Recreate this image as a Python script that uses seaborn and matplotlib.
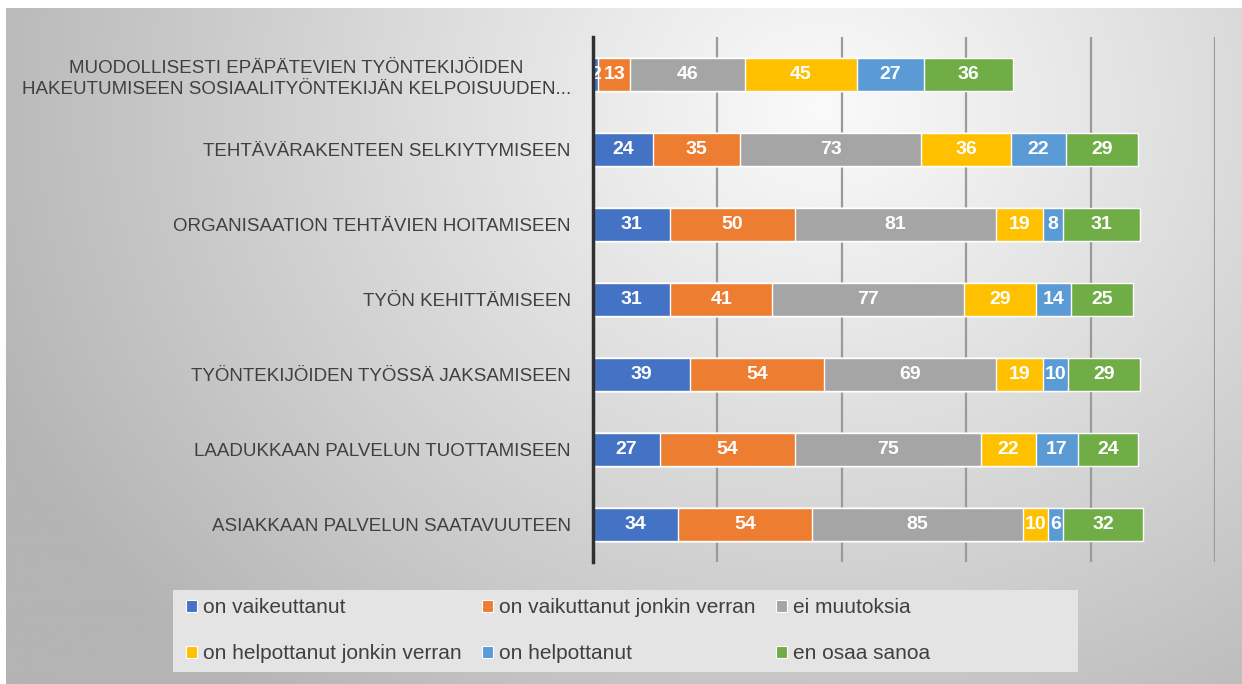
import numpy as np
import pandas as pd
import matplotlib
matplotlib.use("Agg")
import matplotlib.pyplot as plt
from matplotlib.patches import Rectangle, Patch
import seaborn as sns

categories = [
    "MUODOLLISESTI EPÄPÄTEVIEN TYÖNTEKIJÖIDEN\nHAKEUTUMISEEN SOSIAALITYÖNTEKIJÄN KELPOISUUDEN...",
    "TEHTÄVÄRAKENTEEN SELKIYTYMISEEN",
    "ORGANISAATION TEHTÄVIEN HOITAMISEEN",
    "TYÖN KEHITTÄMISEEN",
    "TYÖNTEKIJÖIDEN TYÖSSÄ JAKSAMISEEN",
    "LAADUKKAAN PALVELUN TUOTTAMISEEN",
    "ASIAKKAAN PALVELUN SAATAVUUTEEN",
]
series_names = ["on vaikeuttanut", "on vaikuttanut jonkin verran", "ei muutoksia",
                "on helpottanut jonkin verran", "on helpottanut", "en osaa sanoa"]
on_vaikeuttanut = [2, 24, 31, 31, 39, 27, 34]
on_vaikuttanut_jv = [13, 35, 50, 41, 54, 54, 54]
ei_muutoksia = [46, 73, 81, 77, 69, 75, 85]
on_helpottanut_jv = [45, 36, 19, 29, 19, 22, 10]
on_helpottanut = [27, 22, 8, 14, 10, 17, 6]
en_osaa_sanoa = [36, 29, 31, 25, 29, 24, 32]
colors = ["#4472C4", "#ED7D31", "#A5A5A5", "#FFC000", "#5B9BD5", "#70AD47"]

values = [on_vaikeuttanut, on_vaikuttanut_jv, ei_muutoksia,
          on_helpottanut_jv, on_helpottanut, en_osaa_sanoa]

sns.set_theme(style="white")
plt.rcParams["font.family"] = ["Liberation Sans", "DejaVu Sans"]

W, H = 1242, 684
fig = plt.figure(figsize=(W / 100, H / 100), dpi=100, facecolor="white")

# gradient background
bg = fig.add_axes([6 / W, 0, 1 - 6 / W, 1 - 8 / H], zorder=-10)
yy, xx = np.mgrid[0:H, 0:W]
d = np.hypot(xx - 820, (yy - 100) * 1.15)
g = np.clip(250 - 78 * (d / 1000) ** 1.05, 180, 252) / 255.0
bg.imshow(np.dstack([g, g, g]), aspect="auto", extent=[0, 1, 0, 1], interpolation="bilinear")
bg.set_axis_off()

ax = fig.add_axes([593 / W, 1 - 562 / H, (1215 - 593) / W, (562 - 37) / H])
ax.patch.set_alpha(0)

df = pd.DataFrame({"cat": categories})
cum = np.zeros(len(categories))
cums = []
for v in values:
    cum = cum + np.array(v)
    cums.append(cum.copy())

for i in range(len(values) - 1, -1, -1):
    df["x"] = cums[i]
    sns.barplot(data=df, x="x", y="cat", orient="h", color=colors[i], width=0.45,
                saturation=1, edgecolor="white", linewidth=1, ax=ax, zorder=3)

for i, v in enumerate(values):
    for j, val in enumerate(v):
        center = cums[i][j] - val / 2
        ax.text(center, j, str(val), ha="center", va="center", color="white",
                fontsize=14, fontweight="bold", zorder=5)

ax.set_xlim(0, 250)
ax.set_ylim(6.5, -0.5)
ax.set_xticks([50, 100, 150, 200, 250])
ax.xaxis.grid(True, color="#9a9a9a", linewidth=1.6, zorder=0)
ax.set_axisbelow(True)
ax.set_xticklabels([])
ax.tick_params(axis="x", length=0)
ax.tick_params(axis="y", length=0, pad=16, labelsize=13.5, labelcolor="#404040")
for lbl in ax.get_yticklabels():
    lbl.set_horizontalalignment("right")
    lbl.set_multialignment("center")
    lbl.set_linespacing(1.35)
for s in ["top", "right", "bottom"]:
    ax.spines[s].set_visible(False)
ax.spines["left"].set_color("#303030")
ax.spines["left"].set_linewidth(2.5)
ax.spines["left"].set_zorder(6)
ax.set_xlabel("")
ax.set_ylabel("")

# legend box
fig.patches.append(Rectangle((173 / W, 1 - 672 / H), (1078 - 173) / W, (672 - 590) / H,
                             transform=fig.transFigure, facecolor="#e4e4e4",
                             edgecolor="none", zorder=1))
handles = [Patch(facecolor=c, edgecolor="white", linewidth=0.8) for c in colors]
order = [0, 3, 1, 4, 2, 5]
leg = fig.legend([handles[k] for k in order], [series_names[k] for k in order],
                 loc="upper left", bbox_to_anchor=(180 / W, 1 - 592 / H), ncol=3,
                 frameon=False, fontsize=15, handlelength=0.5, handleheight=0.5,
                 handletextpad=0.3, columnspacing=1.0, labelspacing=1.3,
                 labelcolor="#404040", borderaxespad=0, borderpad=0.3)
leg.set_zorder(2)

fig.savefig("out.png", dpi=100, facecolor="white")
